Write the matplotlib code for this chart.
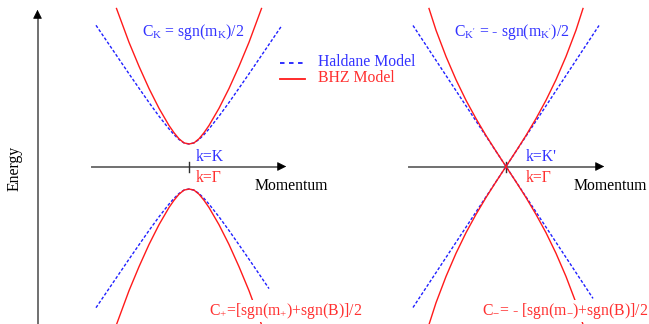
import numpy as np
import matplotlib
matplotlib.use('Agg')
import matplotlib.pyplot as plt

plt.rcParams['font.family'] = ['Liberation Serif', 'DejaVu Serif']
plt.rcParams['mathtext.fontset'] = 'custom'
plt.rcParams['mathtext.rm'] = 'Liberation Serif'
plt.rcParams['mathtext.it'] = 'Liberation Serif:italic'

# ---- data (pixel-like units: k = offset from band centre, E = height above axis) ----
# left panel: gapped Dirac cone (K point / Gamma point)
k_gapped = [0, 5, 10, 15, 20, 30, 40, 50, 60, 70, 80, 93]
E_haldane_gapped = [22.5, 23.6, 27.0, 31.9, 37.6, 50.3, 64.0, 78.3, 92.7, 107.4, 122.1, 141.2]
k_bhz_gapped = [0, 5, 10, 15, 20, 30, 40, 50, 60, 72.5]
E_bhz_gapped = [22.5, 23.6, 27.7, 33.8, 41.0, 58.2, 78.0, 100.2, 124.2, 158.0]

# right panel: gapless cone (K' point / Gamma point)
k_gapless = [0, 93]
E_haldane_gapless = [0, 141.0]
k_bhz_gapless = [0, 10, 20, 30, 40, 50, 60, 70, 77]
E_bhz_gapless = [0, 15.3, 31.0, 47.9, 66.2, 86.8, 110.0, 136.3, 158.0]

# k extent of the lower (valence) Haldane branch, right side is a bit shorter
k_lower_right = [90, 87]

left_labels = [r'C$_{\mathrm{K}}$ = sgn(m$_{\mathrm{K}}$)/2', 'k=K', 'k=\u0393',
               r'C$_{+}$=[sgn(m$_{+}$)+sgn(B)]/2']
right_labels = [r"C$_{\mathrm{K'}}$ = - sgn(m$_{\mathrm{K'}}$)/2", "k=K'", 'k=\u0393',
                r'C$_{-}$= - [sgn(m$_{-}$)+sgn(B)]/2']

BLUE = '#1f1fff'
RED = '#ff1a1a'
TBLUE = '#3333ff'
TRED = '#ff3030'
GREY = '#707070'
FS = 11.3

fig = plt.figure(figsize=(6.49, 3.24), dpi=100)
ax = fig.add_axes([0, 0, 1, 1])
ax.set_xlim(0, 649)
ax.set_ylim(324, 0)
ax.axis('off')

axis_y = 166.5
centres = [189, 506]


def branch(ks, Es, kmax=None):
    ks = np.array(ks, float)
    Es = np.array(Es, float)
    if kmax is not None:
        keep = ks <= kmax
        ks, Es = ks[keep], Es[keep]
    return ks, Es


def draw_band(x0, ks, Es, sign, color, ls, kleft=None, kright=None):
    kl, El = branch(ks, Es, kleft)
    kr, Er = branch(ks, Es, kright)
    xs = np.concatenate([x0 - kl[::-1], x0 + kr[1:]])
    es = np.concatenate([El[::-1], Er[1:]])
    line, = ax.plot(xs, axis_y - sign * es, color=color, lw=1.0, linestyle=ls)
    if ls == '--':
        line.set_dashes((2.2, 1.4))
    return line


# energy axis
ax.plot([37.5, 37.5], [324, 14], color=GREY, lw=1.4)
ax.annotate('', xy=(37.5, 7), xytext=(37.5, 18),
            arrowprops=dict(arrowstyle='-|>', color='black', lw=0.5, mutation_scale=14))
ax.text(15, 168, 'Energy', rotation=90, ha='center', va='center', fontsize=FS)

# momentum axes
for x0, (xa, xb) in zip(centres, [(92, 282), (409, 600)]):
    ax.plot([xa, xb], [axis_y, axis_y], color=GREY, lw=1.4)
    ax.annotate('', xy=(xb + 7, axis_y), xytext=(xb - 4, axis_y),
                arrowprops=dict(arrowstyle='-|>', color='black', lw=0.5, mutation_scale=14))
    ax.plot([x0, x0], [161.5, 171.5], color='#303030', lw=1.0)

# left panel bands
x0 = centres[0]
draw_band(x0, k_gapped, E_haldane_gapped, 1, BLUE, '--')
draw_band(x0, k_gapped, E_haldane_gapped, -1, BLUE, '--', kright=k_lower_right[0])
draw_band(x0, k_bhz_gapped, E_bhz_gapped, 1, RED, '-')
draw_band(x0, k_bhz_gapped, E_bhz_gapped, -1, RED, '-')

# right panel bands
x0 = centres[1]
draw_band(x0, k_gapless, E_haldane_gapless, 1, BLUE, '--')
kg = [0, k_lower_right[1]]
Eg = [0, E_haldane_gapless[1] * k_lower_right[1] / k_gapless[1]]
ax.plot([x0 - k_gapless[1], x0, x0 + kg[1]],
        [axis_y + E_haldane_gapless[1], axis_y, axis_y + Eg[1]],
        color=BLUE, lw=1.0, dashes=(2.2, 1.4))
draw_band(x0, k_bhz_gapless, E_bhz_gapless, 1, RED, '-')
draw_band(x0, k_bhz_gapless, E_bhz_gapless, -1, RED, '-')

# labels
ax.text(142, 32, left_labels[0], color=TBLUE, fontsize=FS, va='center', ha='left')
ax.text(196, 157, left_labels[1], color=TBLUE, fontsize=FS, va='center', ha='left')
ax.text(196, 178, left_labels[2], color=TRED, fontsize=FS, va='center', ha='left')
ax.text(209, 311, left_labels[3], color=TRED, fontsize=FS, va='center', ha='left',
        bbox=dict(facecolor='white', edgecolor='none', pad=0.5))
ax.text(255, 186, 'Momentum', color='black', fontsize=FS, va='center', ha='left')

ax.text(454, 32, right_labels[0], color=TBLUE, fontsize=FS, va='center', ha='left')
ax.text(526, 157, right_labels[1], color=TBLUE, fontsize=FS, va='center', ha='left')
ax.text(526, 178, right_labels[2], color=TRED, fontsize=FS, va='center', ha='left')
ax.text(482, 311, right_labels[3], color=TRED, fontsize=FS, va='center', ha='left',
        bbox=dict(facecolor='white', edgecolor='none', pad=0.5))
ax.text(574, 186, 'Momentum', color='black', fontsize=FS, va='center', ha='left')

# legend
ax.plot([280, 305], [63, 63], color=BLUE, lw=1.3, dashes=(2.5, 2.5))
ax.plot([280, 305], [79, 79], color=RED, lw=1.3)
ax.text(318, 62, 'Haldane Model', color=TBLUE, fontsize=FS, va='center', ha='left')
ax.text(318, 78, 'BHZ Model', color=TRED, fontsize=FS, va='center', ha='left')

fig.savefig('out.png', dpi=100)
